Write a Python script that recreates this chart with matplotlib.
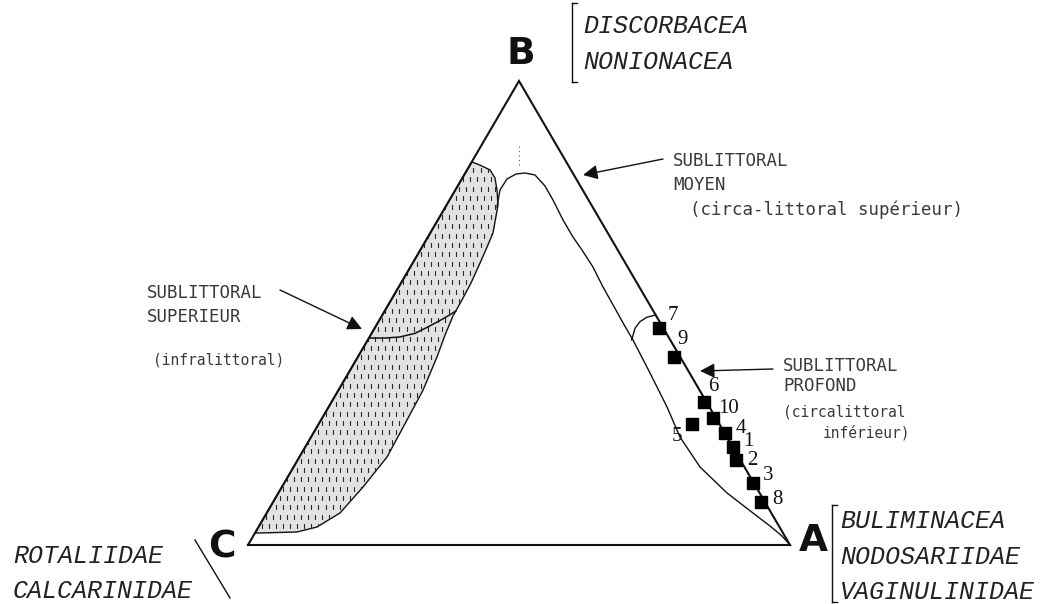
import numpy as np
import matplotlib
matplotlib.use("Agg")
import matplotlib.pyplot as plt
from matplotlib.patches import Polygon

# ---------------- data (ternary %, A = bottom right, B = top, C = bottom left)
sample_ids = ['7', '9', '6', '10', '5', '4', '1', '2', '3', '8']
pct_A = [52.4, 58.3, 68.7, 72.2, 68.9, 75.9, 78.8, 80.8, 86.6, 90.0]
pct_B = [46.7, 40.6, 30.9, 27.3, 26.1, 24.1, 21.2, 18.3, 13.3, 9.3]

# label offsets (pixels) for sample numbers
label_dx = [14, 9, 9, 15, -15, 16, 16, 17, 15, 16]
label_dy = [13, 17, 15, 10, -13, 5, 5, 0, 8, 2]

# boundary curves in triangle-plane units (C=(0,0), A=(100,0), B=(50,86.6))
upper_x = [45.94, 46.49, 47.79, 49.45, 51.11, 52.95, 54.80, 56.27, 58.12, 59.96,
           61.62, 63.65, 65.50, 67.16, 69.0, 71.03, 74.17, 77.31, 79.70, 83.39,
           88.38, 93.17, 96.31, 98.52, 100.0]
upper_y = [63.08, 66.26, 68.31, 69.24, 69.43, 69.06, 67.00, 64.39, 60.66, 57.48,
           55.06, 51.88, 48.15, 45.16, 41.8, 38.26, 32.10, 25.76, 20.16, 14.56,
           9.71, 5.97, 3.55, 1.68, 0.0]

shade_x = [1.3, 41.3, 42.8, 44.65, 45.57, 45.94, 46.13, 45.2, 44.1, 42.8,
           41.14, 39.48, 37.82, 36.35, 34.87, 32.29, 29.34, 25.65, 21.22, 16.97,
           12.73, 9.04, 2.21]
shade_y = [2.25, 71.5, 70.9, 70.0, 68.5, 66.26, 63.46, 58.23, 55.6, 52.6,
           48.9, 45.73, 42.74, 39.19, 35.1, 28.9, 23.33, 16.42, 10.82, 5.97,
           3.36, 2.43, 2.24]

divider_x = [22.3, 25.3, 28.0, 30.8, 33.0, 35.6, 37.3, 38.34]
divider_y = [38.63, 38.63, 38.82, 39.5, 40.6, 42.0, 43.0, 43.67]

arc_x = [75.2, 73.56, 72.32, 71.4, 70.79]
arc_y = [42.93, 42.5, 41.68, 40.44, 38.26]


def tern(a, b):
    a = np.asarray(a, float)
    b = np.asarray(b, float)
    return a + b / 2.0, b * np.sqrt(3) / 2.0


# pixel -> data helper for annotation placement
def P(px, py):
    return ((px - 248) / 5.42, (545 - py) / 5.358)


fig = plt.figure(figsize=(10.47, 6.04), dpi=100)
ax = fig.add_axes([0, 0, 1, 1])
ax.set_xlim(P(0, 0)[0], P(1047, 0)[0])
ax.set_ylim(P(0, 604)[1], P(0, 0)[1])
ax.axis('off')

ink = '#111111'

# shaded region
poly = Polygon(np.column_stack([shade_x, shade_y]), closed=True,
               facecolor='#e2e2e2', edgecolor=ink, lw=1.0, zorder=2)
ax.add_patch(poly)
gx, gy = [], []
for j, yy in enumerate(np.arange(0, 73, 1.75)):
    off = 0.65 if j % 2 else 0.0
    for xx in np.arange(0, 48, 1.3):
        gx.append(xx + off)
        gy.append(yy)
dash = ax.scatter(gx, gy, marker='|', s=11, linewidths=0.8, color='#2a2a2a', zorder=3)
dash.set_clip_path(poly)
ax.plot(divider_x, divider_y, color=ink, lw=1.1, zorder=4)

# triangle
tx, ty = tern([0, 100, 0, 0], [0, 0, 100, 0])
ax.plot(tx, ty, color=ink, lw=1.5, zorder=5, solid_joinstyle='miter')

# curves
ax.plot(upper_x, upper_y, color=ink, lw=1.0, zorder=4)
ax.plot(arc_x, arc_y, color=ink, lw=1.0, zorder=4)
ax.plot([50, 50], [70.9, 74.4], color='#555555', lw=0.8, ls=(0, (1, 3)), zorder=4)

# samples
sx, sy = tern(pct_A, pct_B)
ax.plot(sx, sy, ls='none', marker='s', ms=8.5, color='black', zorder=6)
for i, lab in enumerate(sample_ids):
    ax.annotate(lab, (sx[i], sy[i]), xytext=(label_dx[i], label_dy[i]),
                textcoords='offset pixels', ha='center', va='center',
                fontsize=15, family='Liberation Serif', color=ink, zorder=7)

# vertex letters
vfont = dict(fontsize=27, fontweight='bold', family='DejaVu Sans', color=ink,
             ha='center', va='center')
ax.text(*P(521, 54), 'B', **vfont)
ax.text(*P(222, 547), 'C', **vfont)
ax.text(*P(813, 541), 'A', **vfont)

# group names
gfont = dict(fontsize=18, style='italic', family='Liberation Mono', color='#222222',
             ha='left', va='center')
ax.text(*P(583, 26), 'DISCORBACEA', **gfont)
ax.text(*P(583, 62), 'NONIONACEA', **gfont)
ax.text(*P(840, 521), 'BULIMINACEA', **gfont)
ax.text(*P(840, 557), 'NODOSARIIDAE', **gfont)
ax.text(*P(840, 592), 'VAGINULINIDAE', **gfont)
ax.text(*P(13, 556), 'ROTALIIDAE', **gfont)
ax.text(*P(13, 591), 'CALCARINIDAE', **gfont)

# brackets
def seg(p1, p2, lw=1.0):
    a, b = P(*p1), P(*p2)
    ax.plot([a[0], b[0]], [a[1], b[1]], color=ink, lw=lw)

seg((577, 3), (572, 3)); seg((572, 3), (572, 82)); seg((572, 82), (577, 82))
seg((837, 505), (832, 505)); seg((832, 505), (832, 602)); seg((832, 602), (837, 602))
seg((195, 540), (230, 598))

# zone labels
tfont = dict(fontsize=12.5, family='DejaVu Sans Mono', color='#3a3a3a',
             ha='left', va='center')
sfont = dict(fontsize=10.5, family='DejaVu Sans Mono', color='#3a3a3a',
             ha='left', va='center')
ax.text(*P(147, 293), 'SUBLITTORAL', **tfont)
ax.text(*P(147, 317), 'SUPERIEUR', **tfont)
ax.text(*P(153, 360), '(infralittoral)', **sfont)

ax.text(*P(673, 161), 'SUBLITTORAL', **tfont)
ax.text(*P(673, 185), 'MOYEN', **tfont)
ax.text(*P(690, 210), '(circa-littoral supérieur)', **tfont)

ax.text(*P(783, 366), 'SUBLITTORAL', **tfont)
ax.text(*P(783, 386), 'PROFOND', **tfont)
ax.text(*P(783, 412), '(circalittoral', **sfont)
ax.text(*P(823, 433), 'inférieur)', **sfont)

# arrows
aprops = dict(arrowstyle='-|>', color=ink, lw=1.0, mutation_scale=22,
              shrinkA=0, shrinkB=0)
ax.annotate('', xy=P(583, 175), xytext=P(663, 159), arrowprops=aprops)
ax.annotate('', xy=P(362, 329), xytext=P(280, 290), arrowprops=aprops)
ax.annotate('', xy=P(700, 371), xytext=P(773, 369), arrowprops=aprops)

fig.savefig('out.png', dpi=100)
